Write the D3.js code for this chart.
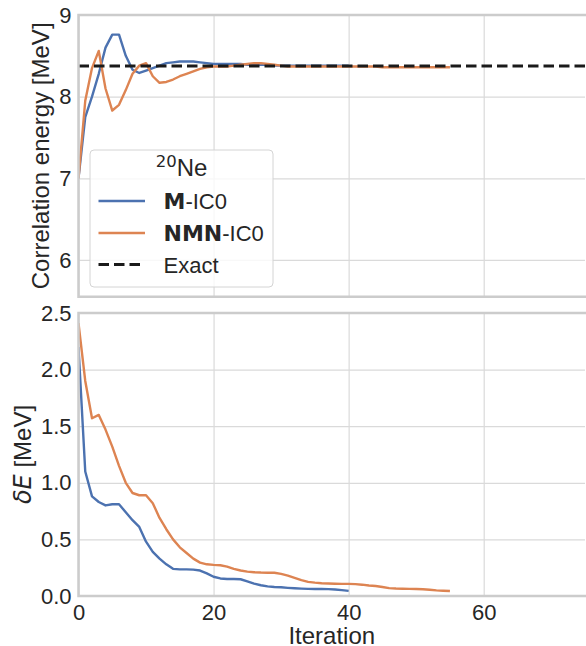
<!DOCTYPE html>
<html><head><meta charset="utf-8">
<script src="https://cdn.jsdelivr.net/npm/d3@7"></script>
<style>
html,body{margin:0;padding:0;background:#fff;}
svg{display:block;}
text{fill:#262626;}
</style></head>
<body>
<script>
// ---------- data ----------
const exactEnergy = 8.375;
const mEnergy = [7.00, 7.75, 8.00, 8.28, 8.60, 8.76, 8.76, 8.50, 8.33, 8.29,
  8.32, 8.35, 8.38, 8.41, 8.42, 8.43, 8.43, 8.43, 8.42, 8.41,
  8.40, 8.40, 8.40, 8.40, 8.40, 8.39, 8.39, 8.39, 8.39, 8.38,
  8.38, 8.38, 8.38, 8.38, 8.38, 8.38, 8.38, 8.38, 8.38, 8.38, 8.38];
const nmnEnergy = [7.00, 7.95, 8.35, 8.56, 8.10, 7.83, 7.90, 8.08, 8.28, 8.38,
  8.41, 8.25, 8.17, 8.18, 8.21, 8.25, 8.28, 8.31, 8.34, 8.36,
  8.37, 8.37, 8.37, 8.38, 8.39, 8.40, 8.41, 8.41, 8.40, 8.39,
  8.38, 8.37, 8.37, 8.37, 8.37, 8.37, 8.37, 8.37, 8.37, 8.37,
  8.37, 8.37, 8.37, 8.37, 8.37, 8.36, 8.36, 8.36, 8.36, 8.36,
  8.36, 8.36, 8.36, 8.36, 8.36, 8.36];
const mDelta = [2.20, 1.10, 0.88, 0.83, 0.80, 0.81, 0.81, 0.74, 0.67, 0.61,
  0.48, 0.39, 0.33, 0.28, 0.24, 0.235, 0.235, 0.233, 0.225, 0.20,
  0.17, 0.155, 0.15, 0.15, 0.148, 0.13, 0.11, 0.095, 0.085, 0.08,
  0.077, 0.072, 0.068, 0.065, 0.063, 0.062, 0.062, 0.061, 0.058, 0.052, 0.045];
const nmnDelta = [2.41, 1.90, 1.57, 1.60, 1.47, 1.32, 1.15, 1.00, 0.91, 0.89,
  0.89, 0.82, 0.69, 0.59, 0.50, 0.43, 0.38, 0.33, 0.295, 0.28,
  0.275, 0.272, 0.26, 0.24, 0.225, 0.215, 0.21, 0.207, 0.206, 0.205,
  0.195, 0.18, 0.16, 0.14, 0.125, 0.118, 0.113, 0.11, 0.108, 0.107,
  0.107, 0.105, 0.10, 0.093, 0.088, 0.08, 0.07, 0.066, 0.064, 0.063,
  0.062, 0.06, 0.055, 0.05, 0.047, 0.044];
const xTicks = [0, 20, 40, 60];
const topTicks = [6, 7, 8, 9];
const botTicks = [0, 0.5, 1.0, 1.5, 2.0, 2.5];
const seriesNames = ["M", "NMN"];
const seriesColors = ["#4c72b0", "#dd8452"];

// ---------- layout ----------
const W = 586, H = 646;
const L = 78.5, R = 585;
const topY0 = 15, topY1 = 296.7, botY0 = 313, botY1 = 596;
const SANS = "'Liberation Sans', Arial, sans-serif";
const DJ = "'DejaVu Sans', sans-serif";

const svg = d3.select("body").append("svg").attr("width", W).attr("height", H);

const x = d3.scaleLinear().domain([0, 75]).range([L, R]);
const yTop = d3.scaleLinear().domain([5.55, 9]).range([topY1, topY0]);
const yBot = d3.scaleLinear().domain([0, 2.5]).range([botY1, botY0]);

function panel(y, y0, y1, ticks, fmt, showX) {
  const g = svg.append("g");
  // y grid + labels
  const ya = g.append("g").attr("transform", `translate(${L},0)`)
    .call(d3.axisLeft(y).tickValues(ticks).tickFormat(fmt).tickSize(-(R - L)).tickPadding(7));
  ya.select(".domain").remove();
  ya.selectAll("line").attr("stroke", "#dadada").attr("stroke-width", 1.2);
  ya.selectAll("text").attr("font-family", SANS).attr("font-size", 22).attr("fill", "#262626");
  // x grid
  const xa = g.append("g").attr("transform", `translate(0,${y1})`)
    .call(d3.axisBottom(x).tickValues(xTicks).tickFormat(d3.format("d")).tickSize(-(y1 - y0)).tickPadding(8));
  xa.select(".domain").remove();
  xa.selectAll("line").attr("stroke", "#dadada").attr("stroke-width", 1.2);
  xa.selectAll("text").attr("font-family", SANS).attr("font-size", 22).attr("fill", "#262626")
    .style("display", showX ? null : "none");
  return g;
}

panel(yTop, topY0, topY1, topTicks, d3.format("d"), false);
panel(yBot, botY0, botY1, botTicks, d3.format(".1f"), true);

// clip paths
const defs = svg.append("defs");
defs.append("clipPath").attr("id", "cTop").append("rect")
  .attr("x", L).attr("y", topY0).attr("width", R - L).attr("height", topY1 - topY0);
defs.append("clipPath").attr("id", "cBot").append("rect")
  .attr("x", L).attr("y", botY0).attr("width", R - L).attr("height", botY1 - botY0);

const lineTop = d3.line().x((d, i) => x(i)).y(d => yTop(d));
const lineBot = d3.line().x((d, i) => x(i)).y(d => yBot(d));

const gTop = svg.append("g").attr("clip-path", "url(#cTop)");
[mEnergy, nmnEnergy].forEach((s, k) => {
  gTop.append("path").datum(s).attr("d", lineTop).attr("fill", "none")
    .attr("stroke", seriesColors[k]).attr("stroke-width", 2.4).attr("stroke-linejoin", "round");
});
gTop.append("line").attr("x1", L).attr("x2", R)
  .attr("y1", yTop(exactEnergy)).attr("y2", yTop(exactEnergy))
  .attr("stroke", "#1a1a1a").attr("stroke-width", 2.9).attr("stroke-dasharray", "10.5,5");

const gBot = svg.append("g").attr("clip-path", "url(#cBot)");
[mDelta, nmnDelta].forEach((s, k) => {
  gBot.append("path").datum(s).attr("d", lineBot).attr("fill", "none")
    .attr("stroke", seriesColors[k]).attr("stroke-width", 2.4).attr("stroke-linejoin", "round");
});

// spines
[[topY0, topY1], [botY0, botY1]].forEach(([a, b]) => {
  svg.append("path").attr("d", `M${R + 2},${a}H${L}V${b}H${R + 2}`)
    .attr("fill", "none").attr("stroke", "#cccccc").attr("stroke-width", 2.5);
});

// axis labels
svg.append("text").attr("transform", `translate(48.5,${(topY0 + topY1) / 2}) rotate(-90)`)
  .attr("text-anchor", "middle").attr("font-family", SANS).attr("font-size", 24)
  .text("Correlation energy [MeV]");
const bl = svg.append("text").attr("transform", `translate(31,${(botY0 + botY1) / 2}) rotate(-90)`)
  .attr("text-anchor", "middle").attr("font-family", SANS).attr("font-size", 24);
bl.append("tspan").attr("font-family", DJ).attr("font-style", "italic").text("δE");
bl.append("tspan").text(" [MeV]");
svg.append("text").attr("x", (L + R) / 2).attr("y", 644).attr("text-anchor", "middle")
  .attr("font-family", SANS).attr("font-size", 24).text("Iteration");

// legend
const lg = svg.append("g");
lg.append("rect").attr("x", 90).attr("y", 150).attr("width", 183).attr("height", 137)
  .attr("rx", 4).attr("fill", "rgba(255,255,255,0.8)").attr("stroke", "#d4d4d4").attr("stroke-width", 1);
const tt = lg.append("text").attr("x", 181.5).attr("y", 176).attr("text-anchor", "middle")
  .attr("font-family", SANS).attr("font-size", 24);
tt.append("tspan").attr("font-family", DJ).attr("font-size", 16.5).attr("dy", -9).text("20");
tt.append("tspan").attr("dy", 9).text("Ne");
const rows = [
  {name: seriesNames[0], color: seriesColors[0], dash: null, y: 209},
  {name: seriesNames[1], color: seriesColors[1], dash: null, y: 241},
  {name: "Exact", color: "#1a1a1a", dash: "10.5,5", y: 272.5}
];
rows.forEach((r, i) => {
  const ly = r.y - 8;
  const ln = lg.append("line").attr("x1", 98.5).attr("x2", 145).attr("y1", ly).attr("y2", ly)
    .attr("stroke", r.color).attr("stroke-width", i < 2 ? 2.4 : 2.9);
  if (r.dash) ln.attr("stroke-dasharray", r.dash);
  const t = lg.append("text").attr("x", 163.5).attr("y", r.y).attr("font-family", SANS).attr("font-size", 22);
  if (i < 2) {
    t.append("tspan").attr("font-family", DJ).attr("font-weight", "bold").text(r.name);
    t.append("tspan").text("-IC0");
  } else {
    t.text(r.name);
  }
});
</script>
</body></html>
